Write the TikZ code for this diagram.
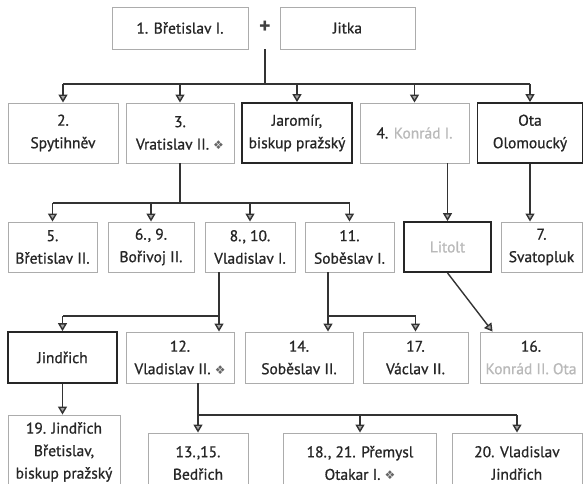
\documentclass[tikz,border=0pt]{standalone}
\usepackage{fontspec}
\setmainfont{PT Sans}
\newfontfamily\jmeno{PT Sans}[FakeBold=0.9]
\newfontfamily\symfont{DejaVu Sans}
\usetikzlibrary{arrows.meta}
\newcommand{\ozdoba}{{\symfont\fontsize{12}{12}\selectfont\textcolor{gray!80!black}{❖}}}
\begin{document}
\begin{tikzpicture}[x=1pt,y=-1pt,
  osoba/.style={draw=gray!65,line width=0.9pt,align=center,inner sep=0pt,
    font=\jmeno\fontsize{15.5}{22.5}\selectfont,text=black!85},
  vyrazna/.style={osoba,draw=black!85,line width=1.8pt},
  sipka/.style={-{Triangle[length=8pt,width=9pt,fill=gray!70]},draw=black!80,line width=1.4pt},
  vetev/.style={draw=black!80,line width=1.4pt}]
\useasboundingbox (0,0) rectangle (583,484);
%generation 0
\node[osoba,minimum width=136pt,minimum height=42pt] (bretislav) at (180,28) {1. Břetislav I.};
\node[font=\fontsize{22}{22}\selectfont\bfseries,text=black!75] (plus) at (265,27) {+};
\node[osoba,minimum width=135pt,minimum height=42pt] (jitka) at (347.5,28) {Jitka};
%generation 1
\node[osoba,minimum width=110pt,minimum height=60pt] (spytihnev) at (63,133) {2.\\Spytihněv};
\node[osoba,minimum width=108pt,minimum height=60pt] (vratislav) at (180,133) {3.\\Vratislav II. \ozdoba};
\node[vyrazna,minimum width=110pt,minimum height=60pt] (jaromir) at (297,133) {Jaromír,\\biskup pražský};
\node[osoba,minimum width=109pt,minimum height=60pt] (konrad) at (414.5,133) {4. \textcolor{gray!55}{Konrád I.}};
\node[vyrazna,minimum width=105pt,minimum height=60pt] (ota) at (530,133) {Ota\\Olomoucký};
%generation 2
\node[osoba,minimum width=89pt,minimum height=50pt] (bretislavII) at (52.5,247) {5.\\Břetislav II.};
\node[osoba,minimum width=86pt,minimum height=50pt] (borivoj) at (151,247) {6., 9.\\Bořivoj II.};
\node[osoba,minimum width=90pt,minimum height=50pt] (vladislavI) at (250,247) {8., 10.\\Vladislav I.};
\node[osoba,minimum width=89pt,minimum height=50pt] (sobeslavI) at (349.5,247) {11.\\Soběslav I.};
\node[vyrazna,minimum width=87pt,minimum height=50pt,text=gray!55] (litolt) at (447.5,247) {Litolt};
\node[osoba,minimum width=81pt,minimum height=50pt] (svatopluk) at (541.5,247) {7.\\Svatopluk};
%generation 3
\node[vyrazna,minimum width=109pt,minimum height=51pt] (jindrich) at (62.5,357.5) {Jindřich};
\node[osoba,minimum width=108pt,minimum height=51pt] (vladislavII) at (180,357.5) {12.\\Vladislav II. \ozdoba};
\node[osoba,minimum width=108pt,minimum height=51pt] (sobeslavII) at (299,357.5) {14.\\Soběslav II.};
\node[osoba,minimum width=105pt,minimum height=51pt] (vaclav) at (415.5,357.5) {17.\\Václav II.};
\node[osoba,minimum width=102pt,minimum height=51pt] (konradII) at (531,357.5) {16.\\\textcolor{gray!55}{Konrád II. Ota}};
%generation 4
\node[osoba,minimum width=112pt,minimum height=74pt] (jindrichB) at (64,452) {19. Jindřich\\Břetislav,\\biskup pražský};
\node[osoba,minimum width=100pt,minimum height=60pt] (bedrich) at (198,463) {13.,15.\\Bedřich};
\node[osoba,minimum width=153pt,minimum height=60pt] (premysl) at (360,463) {18., 21. Přemysl\\Otakar I. \ozdoba};
\node[osoba,minimum width=130pt,minimum height=60pt] (vladislavJ) at (517,463) {20. Vladislav\\Jindřich};
%branch points
\coordinate (spoj0) at (265,84);
\coordinate (spoj1) at (180,203);
\coordinate (spoj2) at (219,316);
\coordinate (spoj3) at (328,316);
\coordinate (spoj4) at (198,415);
%lines
\draw[vetev] (plus |- jitka.south) -- (spoj0);
\draw[vetev] (spytihnev.north |- spoj0) -- (ota.north |- spoj0);
\foreach \n in {spytihnev,vratislav,jaromir,konrad,ota}
  \draw[sipka] (\n.north |- spoj0) -- (\n.north);
\draw[vetev] (vratislav.south) -- (spoj1);
\draw[vetev] (bretislavII.north |- spoj1) -- (sobeslavI.north |- spoj1);
\foreach \n in {bretislavII,borivoj,vladislavI,sobeslavI}
  \draw[sipka] (\n.north |- spoj1) -- (\n.north);
\draw[sipka] (konrad.south -| litolt) -- (litolt.north);
\draw[sipka] (ota.south) -- (ota.south |- svatopluk.north);
\draw[vetev] (vladislavI.south -| spoj2) -- (spoj2) -- (spoj2 -| jindrich);
\draw[sipka] (spoj2 -| jindrich) -- (jindrich.north);
\draw[sipka] (spoj2) -- (spoj2 |- vladislavII.north);
\draw[vetev] (sobeslavI.south -| spoj3) -- (spoj3) -- (spoj3 -| vaclav);
\draw[sipka] (spoj3) -- (spoj3 |- sobeslavII.north);
\draw[sipka] (spoj3 -| vaclav) -- (vaclav.north);
\draw[sipka] (litolt.south) -- ([xshift=13pt]konradII.north west);
\draw[sipka] (jindrich.south) -- (jindrich.south |- jindrichB.north);
\draw[vetev] (vladislavII.south -| spoj4) -- (spoj4) -- (spoj4 -| vladislavJ);
\foreach \n in {bedrich,premysl,vladislavJ}
  \draw[sipka] (spoj4 -| \n) -- (\n.north);
\end{tikzpicture}
\end{document}
